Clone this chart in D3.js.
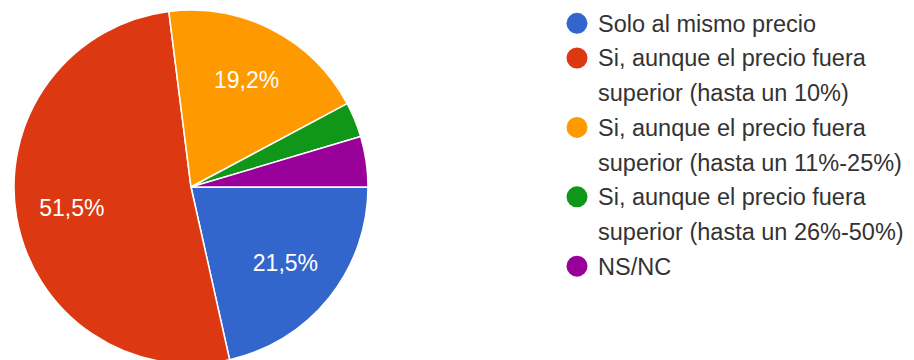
<!DOCTYPE html>
<html>
<head>
<meta charset="utf-8">
<script src="https://cdn.jsdelivr.net/npm/d3@7"></script>
<style>
  html, body { margin: 0; padding: 0; background: #fff; }
  svg { display: block; font-family: Arial, "Liberation Sans", sans-serif; }
</style>
</head>
<body>
<svg id="chart" width="914" height="360"></svg>
<script>
// Survey answers and their shares (%)
const categories = [
  "Solo al mismo precio",
  "Si, aunque el precio fuera superior (hasta un 10%)",
  "Si, aunque el precio fuera superior (hasta un 11%-25%)",
  "Si, aunque el precio fuera superior (hasta un 26%-50%)",
  "NS/NC"
];
const legendLines = [
  ["Solo al mismo precio"],
  ["Si, aunque el precio fuera", "superior (hasta un 10%)"],
  ["Si, aunque el precio fuera", "superior (hasta un 11%-25%)"],
  ["Si, aunque el precio fuera", "superior (hasta un 26%-50%)"],
  ["NS/NC"]
];
const values = [21.5, 51.5, 19.2, 3.2, 4.6];
const colors = ["#3366cc", "#dc3912", "#ff9900", "#109618", "#990099"];

const svg = d3.select("#chart");
const cx = 191, cy = 187, R = 177;

const color = d3.scaleOrdinal().domain(categories).range(colors);

// Slices start at 3 o'clock and run clockwise
const pie = d3.pie().sort(null).value(d => d.value)
  .startAngle(Math.PI / 2).endAngle(Math.PI / 2 + 2 * Math.PI);
const data = categories.map((c, i) => ({ name: c, value: values[i] }));
const arcs = pie(data);

const arc = d3.arc().innerRadius(0).outerRadius(R);
const labelArc = d3.arc().innerRadius(121).outerRadius(121);

const g = svg.append("g").attr("transform", `translate(${cx},${cy})`);
g.selectAll("path.slice").data(arcs).join("path")
  .attr("class", "slice")
  .attr("d", arc)
  .attr("fill", d => color(d.data.name))
  .attr("stroke", "#fff")
  .attr("stroke-width", 1.5);

// Percentage labels on slices big enough to hold them
g.selectAll("text.pct").data(arcs.filter(d => d.data.value >= 10)).join("text")
  .attr("class", "pct")
  .attr("transform", d => `translate(${labelArc.centroid(d)})`)
  .attr("text-anchor", "middle")
  .attr("dy", "0.36em")
  .attr("fill", "#fff")
  .attr("font-size", 23)
  .text(d => d3.format(".1f")(d.data.value).replace(".", ",") + "%");

// Legend
const legend = svg.append("g");
let y = 23.3;
const lineH = 34.7;
legendLines.forEach((lines, i) => {
  legend.append("circle")
    .attr("cx", 577).attr("cy", y)
    .attr("r", 10.5)
    .attr("fill", color(categories[i]));
  lines.forEach((t, j) => {
    legend.append("text")
      .attr("x", 598).attr("y", y + j * lineH)
      .attr("dy", "0.36em")
      .attr("font-size", 23.5)
      .attr("fill", "#333")
      .text(t);
  });
  y += lines.length * lineH;
});
</script>
</body>
</html>
